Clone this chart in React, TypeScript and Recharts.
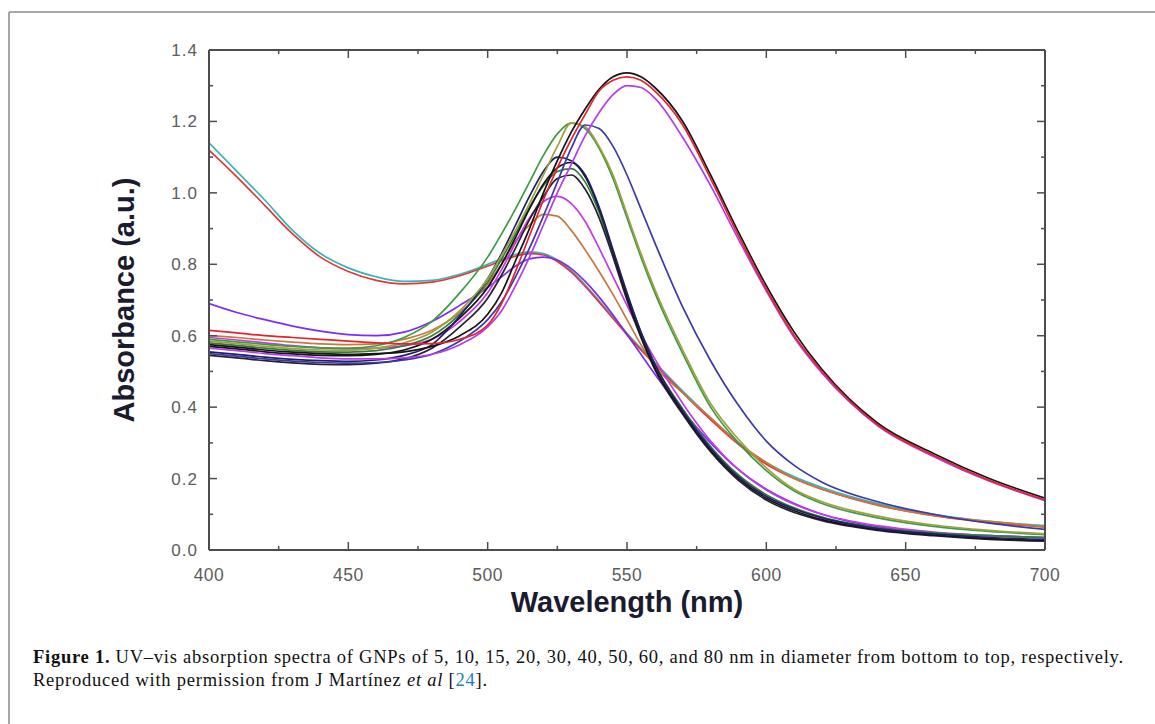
import React from 'react';
import { LineChart, Line, XAxis, YAxis } from 'recharts';

// Wavelength grid (nm)
const wavelengths = [400, 410, 420, 430, 440, 450, 460, 470, 480, 490, 500, 505, 510, 515, 520, 525, 530, 535, 540, 545, 550, 555, 560, 570, 580, 590, 600, 610, 620, 640, 660, 680, 700];

// Absorbance series (a.u.)
const cyan5 = [1.14, 1.06, 0.98, 0.895, 0.83, 0.79, 0.765, 0.752, 0.755, 0.772, 0.8, 0.815, 0.828, 0.835, 0.83, 0.812, 0.782, 0.742, 0.698, 0.652, 0.607, 0.565, 0.525, 0.445, 0.37, 0.3, 0.245, 0.205, 0.175, 0.13, 0.1, 0.08, 0.068];
const red5 = [1.12, 1.045, 0.965, 0.885, 0.82, 0.78, 0.755, 0.745, 0.75, 0.768, 0.795, 0.81, 0.823, 0.83, 0.826, 0.808, 0.778, 0.738, 0.694, 0.648, 0.603, 0.56, 0.52, 0.44, 0.365, 0.296, 0.24, 0.2, 0.17, 0.126, 0.096, 0.077, 0.064];
const purple = [0.69, 0.665, 0.645, 0.627, 0.613, 0.603, 0.6, 0.61, 0.64, 0.685, 0.735, 0.765, 0.795, 0.815, 0.82, 0.812, 0.788, 0.752, 0.708, 0.658, 0.603, 0.548, 0.492, 0.39, 0.3, 0.225, 0.17, 0.13, 0.1, 0.065, 0.048, 0.04, 0.035];
const orange = [0.6, 0.595, 0.588, 0.582, 0.577, 0.575, 0.577, 0.59, 0.615, 0.665, 0.745, 0.8, 0.865, 0.91, 0.94, 0.935, 0.895, 0.84, 0.78, 0.715, 0.645, 0.575, 0.515, 0.44, 0.37, 0.3, 0.245, 0.2, 0.17, 0.125, 0.097, 0.08, 0.065];
const magenta = [0.595, 0.588, 0.58, 0.572, 0.566, 0.563, 0.565, 0.572, 0.59, 0.64, 0.72, 0.785, 0.86, 0.93, 0.975, 0.99, 0.97, 0.92, 0.845, 0.765, 0.685, 0.605, 0.535, 0.41, 0.305, 0.225, 0.168, 0.128, 0.1, 0.068, 0.05, 0.04, 0.035];
const darkNavy = [0.555, 0.548, 0.54, 0.534, 0.53, 0.528, 0.532, 0.545, 0.575, 0.655, 0.76, 0.83, 0.91, 0.99, 1.06, 1.1, 1.09, 1.05, 0.96, 0.84, 0.72, 0.61, 0.52, 0.39, 0.285, 0.205, 0.15, 0.115, 0.09, 0.06, 0.045, 0.035, 0.03];
const black1 = [0.57, 0.563, 0.555, 0.549, 0.545, 0.544, 0.548, 0.56, 0.59, 0.65, 0.735, 0.8, 0.875, 0.955, 1.025, 1.07, 1.085, 1.045, 0.955, 0.835, 0.71, 0.6, 0.51, 0.385, 0.28, 0.2, 0.145, 0.11, 0.085, 0.057, 0.042, 0.032, 0.027];
const green2 = [0.58, 0.573, 0.565, 0.559, 0.555, 0.554, 0.558, 0.572, 0.6, 0.66, 0.75, 0.815, 0.885, 0.96, 1.02, 1.06, 1.068, 1.03, 0.945, 0.83, 0.715, 0.61, 0.52, 0.395, 0.29, 0.21, 0.155, 0.118, 0.092, 0.062, 0.048, 0.04, 0.035];
const black2 = [0.545, 0.538, 0.53, 0.524, 0.52, 0.519, 0.523, 0.535, 0.565, 0.625, 0.705, 0.77, 0.845, 0.925, 0.99, 1.04, 1.05, 1.01, 0.93, 0.82, 0.7, 0.595, 0.505, 0.38, 0.275, 0.195, 0.14, 0.105, 0.082, 0.055, 0.04, 0.03, 0.025];
const green = [0.59, 0.583, 0.576, 0.57, 0.566, 0.565, 0.572, 0.595, 0.64, 0.72, 0.82, 0.885, 0.955, 1.03, 1.105, 1.165, 1.195, 1.18, 1.125, 1.04, 0.93, 0.82, 0.72, 0.55, 0.4, 0.3, 0.222, 0.165, 0.13, 0.09, 0.066, 0.052, 0.043];
const olive = [0.585, 0.578, 0.57, 0.564, 0.56, 0.559, 0.565, 0.58, 0.61, 0.67, 0.76, 0.825, 0.895, 0.97, 1.05, 1.13, 1.195, 1.185, 1.13, 1.05, 0.94, 0.83, 0.73, 0.56, 0.41, 0.31, 0.23, 0.17, 0.135, 0.095, 0.07, 0.055, 0.045];
const navy = [0.55, 0.543, 0.535, 0.529, 0.525, 0.523, 0.525, 0.532, 0.548, 0.585, 0.645, 0.695, 0.765, 0.845, 0.935, 1.03, 1.125, 1.19, 1.18, 1.13, 1.05, 0.955, 0.86, 0.68, 0.53, 0.405, 0.305, 0.237, 0.19, 0.135, 0.1, 0.075, 0.058];
const magentaTall = [0.565, 0.558, 0.55, 0.544, 0.538, 0.535, 0.535, 0.538, 0.548, 0.575, 0.625, 0.67, 0.74, 0.82, 0.91, 1.0, 1.08, 1.16, 1.225, 1.275, 1.3, 1.295, 1.265, 1.155, 1.02, 0.87, 0.725, 0.595, 0.495, 0.348, 0.262, 0.193, 0.138];
const blackTall = [0.575, 0.568, 0.56, 0.554, 0.55, 0.548, 0.55, 0.555, 0.57, 0.6, 0.66, 0.72, 0.81, 0.9, 1.0, 1.09, 1.17, 1.235, 1.29, 1.325, 1.336, 1.325, 1.295, 1.2, 1.05, 0.89, 0.74, 0.61, 0.505, 0.355, 0.27, 0.2, 0.145];
const redTall = [0.615, 0.608, 0.6, 0.595, 0.59, 0.585, 0.58, 0.577, 0.578, 0.59, 0.63, 0.69, 0.78, 0.88, 0.98, 1.07, 1.15, 1.22, 1.285, 1.315, 1.325, 1.315, 1.285, 1.19, 1.04, 0.88, 0.73, 0.6, 0.5, 0.35, 0.265, 0.195, 0.14];

// Axis ticks
const xTicks = [400, 425, 450, 475, 500, 525, 550, 575, 600, 625, 650, 675, 700];
const yTicks = [0, 0.1, 0.2, 0.3, 0.4, 0.5, 0.6, 0.7, 0.8, 0.9, 1.0, 1.1, 1.2, 1.3, 1.4];

const seriesList = [
  { key: 'cyan5', values: cyan5, color: '#35b5b8' },
  { key: 'red5', values: red5, color: '#e4363a' },
  { key: 'purple', values: purple, color: '#7d2cf2' },
  { key: 'orange', values: orange, color: '#c9783c' },
  { key: 'magenta', values: magenta, color: '#c43ae8' },
  { key: 'green2', values: green2, color: '#2f7f3a' },
  { key: 'black2', values: black2, color: '#2a2030' },
  { key: 'black1', values: black1, color: '#151515' },
  { key: 'darkNavy', values: darkNavy, color: '#20206a' },
  { key: 'green', values: green, color: '#3d9b45' },
  { key: 'olive', values: olive, color: '#a0a040' },
  { key: 'navy', values: navy, color: '#3b3ba8' },
  { key: 'magentaTall', values: magentaTall, color: '#b23cf0' },
  { key: 'blackTall', values: blackTall, color: '#151515' },
  { key: 'redTall', values: redTall, color: '#e3242b' },
];

const data = wavelengths.map((wl, i) => {
  const row: Record<string, number> = { wl };
  seriesList.forEach((s) => {
    row[s.key] = s.values[i];
  });
  return row;
});

const AXIS = '#4d4d4d';
const LABEL = '#5c5c5c';
const SANS = '"Liberation Sans", Arial, sans-serif';
const SERIF = '"Liberation Serif", "Times New Roman", serif';

const isMajorX = (v: number) => v % 50 === 0;
const isMajorY = (v: number) => Math.round(v * 10) % 2 === 0;

const BottomTick = (props: any) => {
  const { x, y, payload } = props;
  const major = isMajorX(payload.value);
  return (
    <g>
      <line x1={x} y1={y} x2={x} y2={y - (major ? 8 : 4)} stroke={AXIS} strokeWidth={1.5} />
      {major && (
        <text x={x} y={y + 31} textAnchor="middle" fill={LABEL} fontFamily={SANS} fontSize={17.5} letterSpacing={0.5}>
          {payload.value}
        </text>
      )}
    </g>
  );
};

const TopTick = (props: any) => {
  const { x, y, payload } = props;
  const major = isMajorX(payload.value);
  return <line x1={x} y1={y} x2={x} y2={y + (major ? 8 : 4)} stroke={AXIS} strokeWidth={1.5} />;
};

const LeftTick = (props: any) => {
  const { x, y, payload } = props;
  const major = isMajorY(payload.value);
  return (
    <g>
      <line x1={x} y1={y} x2={x + (major ? 8 : 4)} y2={y} stroke={AXIS} strokeWidth={1.5} />
      {major && (
        <text x={x - 11} y={y + 6} textAnchor="end" fill={LABEL} fontFamily={SANS} fontSize={17} letterSpacing={1}>
          {Number(payload.value).toFixed(1)}
        </text>
      )}
    </g>
  );
};

const RightTick = (props: any) => {
  const { x, y, payload } = props;
  const major = isMajorY(payload.value);
  return <line x1={x} y1={y} x2={x - (major ? 8 : 4)} y2={y} stroke={AXIS} strokeWidth={1.5} />;
};

export default function App() {
  return (
    <div style={{ position: 'absolute', left: 0, top: 0, width: 1155, height: 724, background: '#ffffff', overflow: 'hidden' }}>
      <LineChart
        width={1155}
        height={724}
        data={data}
        margin={{ top: 49, right: 109, left: 149, bottom: 144 }}
      >
        <XAxis
          xAxisId="bottom"
          dataKey="wl"
          type="number"
          domain={[400, 700]}
          ticks={xTicks}
          interval={0}
          height={30}
          tickSize={0}
          tickMargin={0}
          tickLine={false}
          tick={<BottomTick />}
          axisLine={{ stroke: AXIS, strokeWidth: 2 }}
          allowDataOverflow
        />
        <XAxis
          xAxisId="top"
          orientation="top"
          dataKey="wl"
          type="number"
          domain={[400, 700]}
          ticks={xTicks}
          interval={0}
          height={1}
          tickSize={0}
          tickMargin={0}
          tickLine={false}
          tick={<TopTick />}
          axisLine={{ stroke: AXIS, strokeWidth: 2 }}
          allowDataOverflow
        />
        <YAxis
          yAxisId="left"
          type="number"
          domain={[0, 1.4]}
          ticks={yTicks}
          interval={0}
          width={60}
          tickSize={0}
          tickMargin={0}
          tickLine={false}
          tick={<LeftTick />}
          axisLine={{ stroke: AXIS, strokeWidth: 2 }}
          allowDataOverflow
        />
        <YAxis
          yAxisId="right"
          orientation="right"
          type="number"
          domain={[0, 1.4]}
          ticks={yTicks}
          interval={0}
          width={1}
          tickSize={0}
          tickMargin={0}
          tickLine={false}
          tick={<RightTick />}
          axisLine={{ stroke: AXIS, strokeWidth: 2 }}
          allowDataOverflow
        />
        {seriesList.map((s) => (
          <Line
            key={s.key}
            xAxisId="bottom"
            yAxisId="left"
            type="monotone"
            dataKey={s.key}
            stroke={s.color}
            strokeWidth={1.7}
            dot={false}
            activeDot={false}
            isAnimationActive={false}
          />
        ))}
      </LineChart>
      <svg
        width={1155}
        height={724}
        style={{ position: 'absolute', left: 0, top: 0, pointerEvents: 'none' }}
      >
        <line x1={9} y1={12} x2={1155} y2={12} stroke="#8a8a8a" strokeWidth={1.5} />
        <line x1={9} y1={12} x2={9} y2={724} stroke="#8a8a8a" strokeWidth={1.5} />
        <text
          x={134}
          y={300}
          transform="rotate(-90 134 300)"
          textAnchor="middle"
          fill="#1b1b2f"
          fontFamily={SANS}
          fontWeight="bold"
          fontSize={29}
        >
          Absorbance (a.u.)
        </text>
        <text
          x={627}
          y={612}
          textAnchor="middle"
          fill="#1b1b2f"
          fontFamily={SANS}
          fontWeight="bold"
          fontSize={29}
        >
          Wavelength (nm)
        </text>
        <text
          x={33}
          y={663}
          fill="#111111"
          fontFamily={SERIF}
          fontSize={18.5}
          textLength={1090}
          lengthAdjust="spacing"
        >
          <tspan fontWeight="bold">Figure 1.</tspan>
          {' UV–vis absorption spectra of GNPs of 5, 10, 15, 20, 30, 40, 50, 60, and 80 nm in diameter from bottom to top, respectively.'}
        </text>
        <text
          x={33}
          y={686}
          fill="#111111"
          fontFamily={SERIF}
          fontSize={18.5}
          textLength={454}
          lengthAdjust="spacing"
        >
          {'Reproduced with permission from J Martínez '}
          <tspan fontStyle="italic">et al</tspan>
          {' ['}
          <tspan fill="#1f7ec2">24</tspan>
          {'].'}
        </text>
      </svg>
    </div>
  );
}
